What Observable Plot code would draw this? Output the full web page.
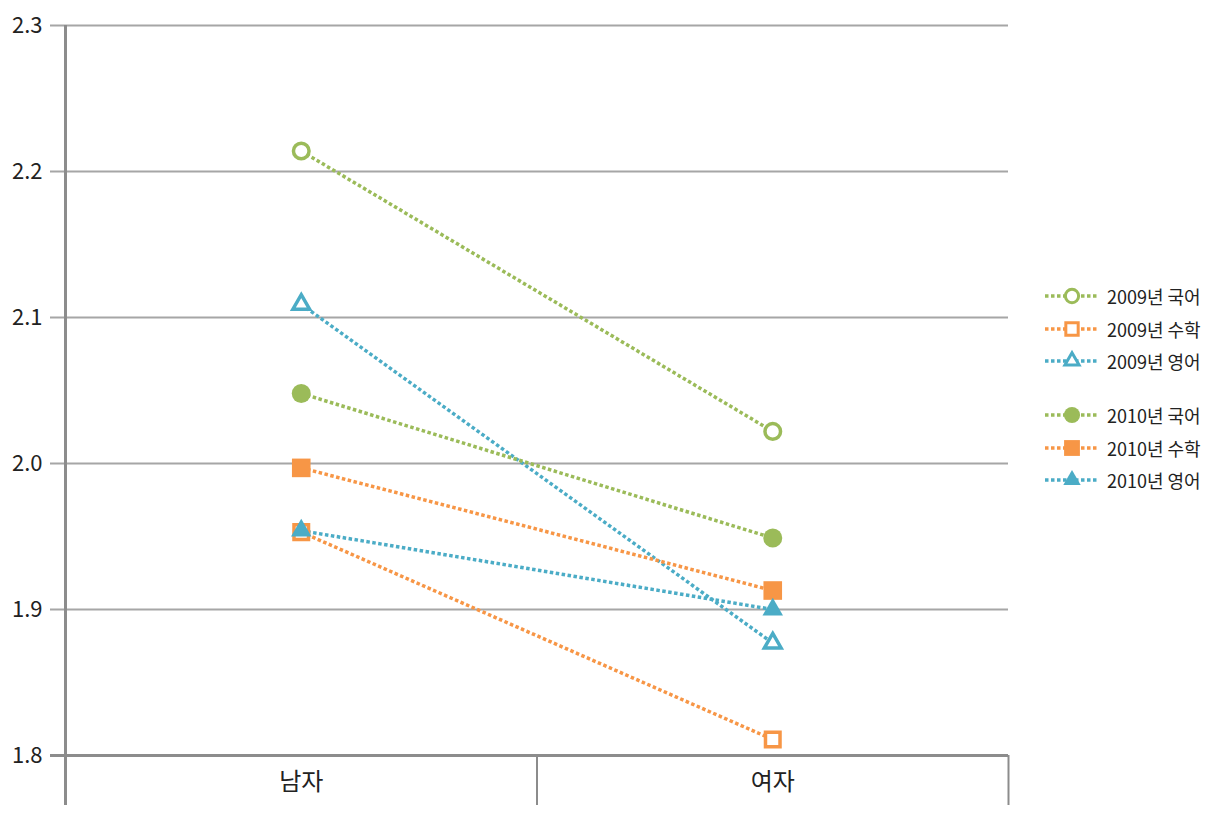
<!DOCTYPE html>
<html>
<head>
<meta charset="utf-8">
<script src="https://cdn.jsdelivr.net/npm/d3@7"></script>
<script src="https://cdn.jsdelivr.net/npm/@observablehq/plot@0.6"></script>
<style>
  html, body { margin: 0; padding: 0; background: #fff; }
  #wrap { position: relative; width: 1219px; height: 817px; font-family: "Noto Sans CJK KR", "Noto Sans", sans-serif; }
  #legend { position: absolute; left: 1043px; top: 280px; }
  .row { display: flex; align-items: center; height: 32.5px; font-size: 18px; color: #222; }
  .row svg { margin-right: 6px; }
  .gap { height: 21.5px; }
</style>
</head>
<body>
<div id="wrap"><div id="legend"></div></div>
<script>
const categories = ["남자", "여자"];
const seriesNames = ["2009년 국어", "2009년 수학", "2009년 영어", "2010년 국어", "2010년 수학", "2010년 영어"];
const korean2009 = [2.214, 2.022];
const math2009 = [1.953, 1.811];
const english2009 = [2.109, 1.877];
const korean2010 = [2.048, 1.949];
const math2010 = [1.997, 1.913];
const english2010 = [1.954, 1.900];
const yTicks = [1.8, 1.9, 2.0, 2.1, 2.2, 2.3];

const seriesValues = [korean2009, math2009, english2009, korean2010, math2010, english2010];
const seriesColors = ["#9bbb59", "#f79646", "#4bacc6", "#9bbb59", "#f79646", "#4bacc6"];
const seriesSymbols = ["circle", "square", "triangle", "circle", "square", "triangle"];
const seriesHollow = [true, true, true, false, false, false];

const rows = seriesNames.flatMap((s, si) =>
  categories.map((c, ci) => ({series: s, cat: c, xi: ci, value: seriesValues[si][ci]})));

function markerR(sym, hollow) {
  if (hollow) return sym === "circle" ? 7.8 : sym === "square" ? 8.2 : 6.2;
  return sym === "circle" ? 9.5 : sym === "square" ? 10.5 : 7.6;
}

const DASH = "3.5,2.5";
const font = '"Noto Sans CJK KR", "Noto Sans", sans-serif';
const marks = [
  Plot.ruleY(yTicks.filter(t => t > 1.8), {y: d => d, stroke: "#a6a6a6", strokeWidth: 2, insetLeft: -15}),
  Plot.ruleY([1.8], {y: d => d, stroke: "#8c8c8c", strokeWidth: 3, insetLeft: -15}),
  Plot.ruleX([-0.5], {x: d => d, stroke: "#8c8c8c", strokeWidth: 3, insetBottom: -50}),
  Plot.ruleX([0.5, 1.5], {x: d => d, stroke: "#8c8c8c", strokeWidth: 2, insetTop: 730, insetBottom: -50}),
  Plot.text(yTicks, {x: -0.5, y: d => d, text: d => d.toFixed(1), textAnchor: "end", dx: -23, fontSize: 22, fill: "#222"}),
  Plot.text(categories, {x: (d, i) => i, y: 1.8, text: d => d, dy: 27, fontSize: 24, fill: "#222"})
];
seriesNames.forEach((s, si) => {
  marks.push(Plot.line(rows.filter(r => r.series === s), {
    x: "xi", y: "value", stroke: seriesColors[si], strokeWidth: 3.5,
    strokeDasharray: DASH, strokeLinecap: "butt"
  }));
});
seriesNames.forEach((s, si) => {
  const sym = seriesSymbols[si];
  const hollow = seriesHollow[si];
  marks.push(Plot.dot(rows.filter(r => r.series === s), {
    x: "xi", y: "value", symbol: sym, r: markerR(sym, hollow),
    fill: hollow ? "white" : seriesColors[si],
    stroke: hollow ? seriesColors[si] : "none",
    strokeWidth: hollow ? 3.5 : 0
  }));
});

const chart = Plot.plot({
  width: 1219, height: 817,
  marginLeft: 65, marginRight: 211, marginTop: 25, marginBottom: 62,
  x: {type: "linear", domain: [-0.5, 1.5], axis: null},
  y: {domain: [1.8, 2.3], axis: null},
  style: {fontFamily: font, background: "white", overflow: "visible"},
  marks
});
const wrap = document.getElementById("wrap");
wrap.insertBefore(chart, wrap.firstChild);

// legend
const legend = d3.select("#legend");
seriesNames.forEach((s, si) => {
  if (si === 3) legend.append("div").attr("class", "gap");
  const row = legend.append("div").attr("class", "row");
  const svg = row.append("svg").attr("width", 58).attr("height", 24);
  svg.append("line").attr("x1", 2).attr("x2", 56).attr("y1", 12).attr("y2", 12)
    .attr("stroke", seriesColors[si]).attr("stroke-width", 3.5).attr("stroke-dasharray", DASH);
  const sym = seriesSymbols[si];
  const hollow = seriesHollow[si];
  const r = markerR(sym, hollow) * 0.85;
  const symType = sym === "circle" ? d3.symbolCircle : sym === "square" ? d3.symbolSquare : d3.symbolTriangle;
  svg.append("path").attr("transform", "translate(29,12)")
    .attr("d", d3.symbol(symType, r * r * Math.PI)())
    .attr("fill", hollow ? "white" : seriesColors[si])
    .attr("stroke", hollow ? seriesColors[si] : "none")
    .attr("stroke-width", hollow ? 3 : 0);
  row.append("span").text(s);
});
</script>
</body>
</html>
